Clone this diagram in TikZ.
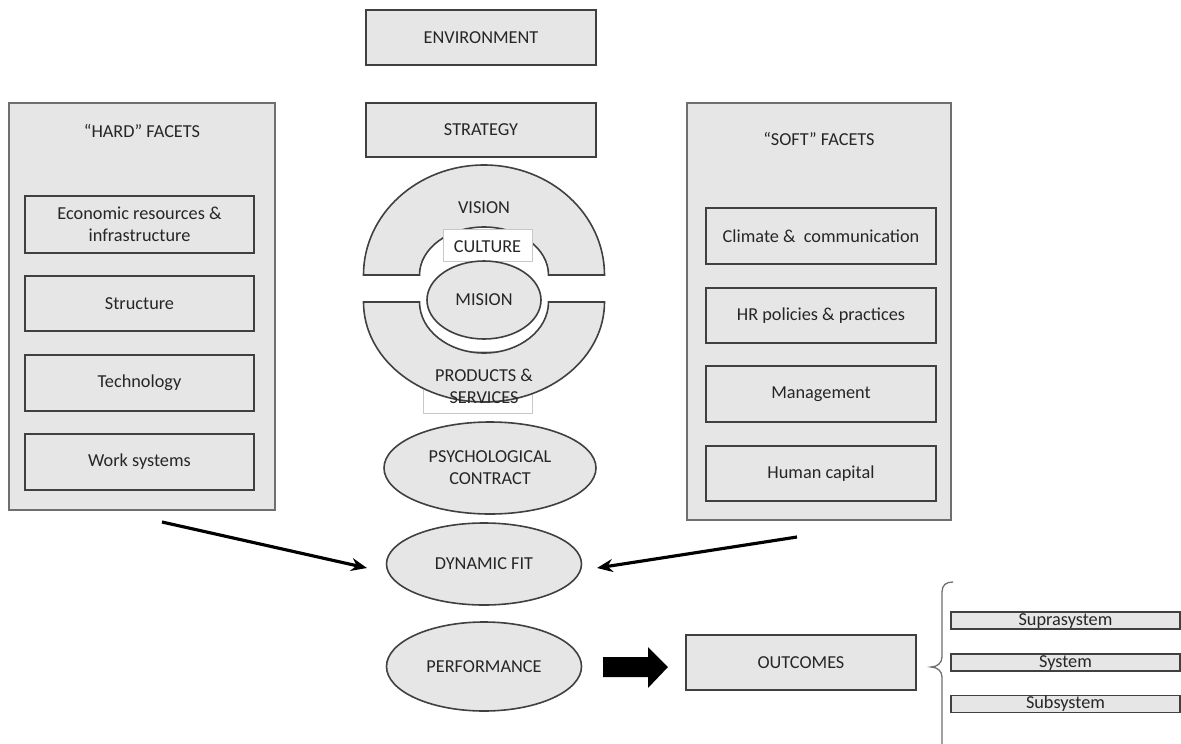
\documentclass[tikz,border=0pt]{standalone}
\usepackage{fontspec}
\setmainfont{Carlito}
\usetikzlibrary{shapes.geometric,arrows.meta}
\newlength\px
\setlength\px{0.02cm}
\definecolor{boxfill}{HTML}{E7E6E6}
\definecolor{boxline}{HTML}{404040}
\definecolor{outerline}{HTML}{6F6F6F}
\definecolor{txt}{HTML}{262626}
\definecolor{faint}{HTML}{C8C8C8}
\tikzset{
  base/.style={fill=boxfill, draw=boxline, line width=1.6\px, text=txt, align=center,
    font=\fontsize{10.4}{12.5}\selectfont, inner sep=0pt},
  rbox/.style={base, rectangle},
  thinbox/.style={fill=boxfill, draw=boxline, line width=1.6\px, text=txt, rectangle,
    font=\fontsize{10.4}{12.5}\selectfont, inner sep=0pt, text height=7.2pt, text depth=2pt},
  outerbox/.style={base, rectangle, draw=outerline},
  ell/.style={base, ellipse},
  lbl/.style={text=txt, align=center, font=\fontsize{10.4}{12.5}\selectfont, inner sep=0pt},
  fitarrow/.style={line width=1.8pt, -{Stealth[length=9pt, width=7.4pt]}},
}
\begin{document}
\begin{tikzpicture}[x=1\px, y=-1\px]
\useasboundingbox (0,0) rectangle (1181,744);
% top boxes
\node[rbox, minimum width=230\px, minimum height=55\px] (env) at (481,37.5) {ENVIRONMENT};
\node[rbox, minimum width=230\px, minimum height=54\px] (strat) at (481,130) {STRATEGY};
% hard facets
\node[outerbox, minimum width=266\px, minimum height=407\px] (hard) at (142,306.5) {};
\node[lbl] (hardt) at (142,131) {“HARD” FACETS};
\node[rbox, minimum width=229\px, minimum height=57\px] (econ) at (139.5,224.5) {Economic resources \&\\infrastructure};
\node[rbox, minimum width=229\px, minimum height=55\px] (struc) at (139.5,303.5) {Structure};
\node[rbox, minimum width=229\px, minimum height=56\px] (tech) at (139.5,383) {Technology};
\node[rbox, minimum width=229\px, minimum height=56\px] (work) at (139.5,462) {Work systems};
% soft facets
\node[outerbox, minimum width=264\px, minimum height=417\px] (soft) at (819,311.5) {};
\node[lbl] (softt) at (819,139) {“SOFT” FACETS};
\node[rbox, minimum width=230\px, minimum height=56\px] (clim) at (821,236) {Climate \&\ \ communication};
\node[rbox, minimum width=230\px, minimum height=55\px] (hr) at (821,315.5) {HR policies \& practices};
\node[rbox, minimum width=230\px, minimum height=56\px] (mgmt) at (821,394) {Management};
\node[rbox, minimum width=230\px, minimum height=55\px] (hc) at (821,473.5) {Human capital};
% rings
\node[draw=faint, fill=white, line width=1\px, minimum width=109\px, minimum height=62\px, inner sep=0pt] (psbox) at (477.5,382) {};
\fill[boxfill, draw=boxline, line width=1.6\px] (363.5,275) arc[start angle=180, end angle=360, x radius=120.5, y radius=110]
  -- (548.5,275) arc[start angle=0, end angle=-180, x radius=64.5, y radius=48] -- cycle;
\fill[boxfill, draw=boxline, line width=1.6\px] (363.5,302) arc[start angle=180, end angle=0, x radius=120.5, y radius=100]
  -- (548.5,302) arc[start angle=0, end angle=180, x radius=64.5, y radius=51] -- cycle;
\node[draw=faint, fill=white, line width=1\px, minimum width=89\px, minimum height=32\px, lbl] (cult) at (487.5,245) {};
\node[lbl] (cultt) at (487.5,246.5) {CULTURE};
\node[lbl] (vis) at (484,208) {VISION};
\node[ell, minimum width=114\px, minimum height=78\px] (mis) at (484,300) {MISION};
\node[lbl] (ps) at (484,386) {PRODUCTS \&\\SERVICES};
% ellipses
\node[ell, minimum width=212\px, minimum height=92\px] (psych) at (490,468) {PSYCHOLOGICAL\\CONTRACT};
\node[ell, minimum width=195\px, minimum height=82\px] (dyn) at (484,564) {DYNAMIC FIT};
\node[ell, minimum width=195\px, minimum height=89\px] (perf) at (484,666.5) {PERFORMANCE};
% outcomes
\node[rbox, minimum width=230\px, minimum height=55\px] (out) at (801,662.5) {OUTCOMES};
\node[thinbox, minimum width=229\px, minimum height=17\px] (supra) at (1065.5,620.5) {Suprasystem};
\node[thinbox, minimum width=229\px, minimum height=17\px] (sys) at (1065.5,662.5) {System};
\node[thinbox, minimum width=229\px, minimum height=17\px] (sub) at (1065.5,704) {Subsystem};
% arrows to dynamic fit
\coordinate (h1) at (162,522);
\coordinate (h2) at (367,568);
\coordinate (s1) at (797,537);
\coordinate (s2) at (597,568);
\draw[fitarrow] (h1) -- (h2);
\draw[fitarrow] (s1) -- (s2);
% block arrow
\coordinate (b0) at (603,667);
\fill[black] (b0) ++(0,-10) -- ++(45,0) -- ++(0,-10) -- (668,667) -- (648,688) -- (648,677) -- (603,677) -- cycle;
% brace
\draw[outerline, line width=1.3\px] (953,582) .. controls (946,582) and (942,585) .. (942,592) -- (942,657)
  .. controls (942,663) and (937,667) .. (931,667) .. controls (937,667) and (942,671) .. (942,677) -- (942,744);
\end{tikzpicture}
\end{document}
